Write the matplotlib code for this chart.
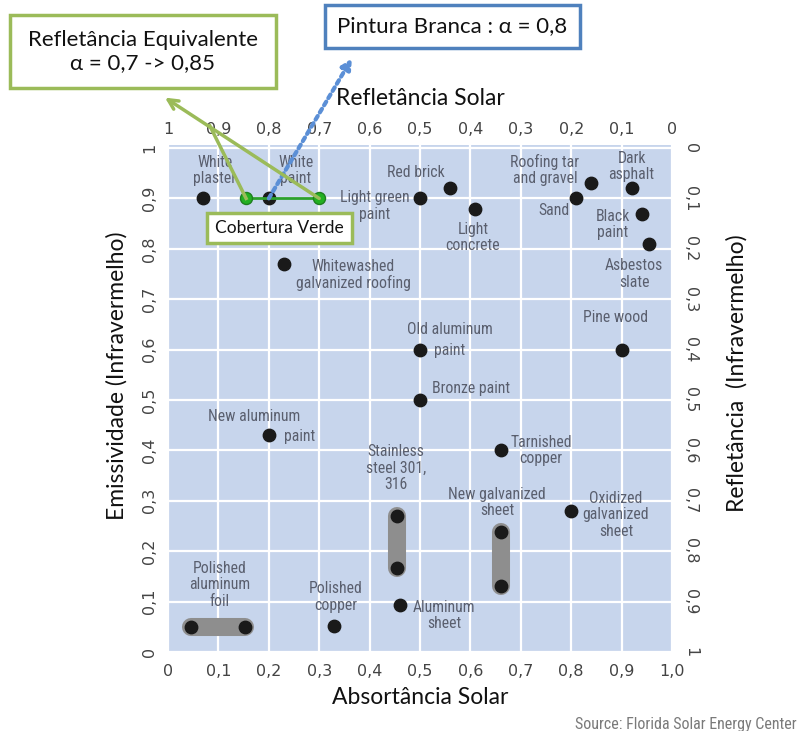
import matplotlib
matplotlib.use("Agg")
import matplotlib.pyplot as plt
from matplotlib.patches import FancyBboxPatch

# ---------------- data ----------------
materials = ["White plaster", "White paint", "Light green paint", "Red brick", "Light concrete",
             "Sand", "Roofing tar and gravel", "Dark asphalt", "Black paint", "Asbestos slate",
             "Whitewashed galvanized roofing", "Old aluminum paint", "Bronze paint", "Pine wood",
             "New aluminum paint", "Tarnished copper", "Oxidized galvanized sheet",
             "Aluminum sheet", "Polished copper"]
absorptance = [0.07, 0.20, 0.50, 0.56, 0.61, 0.81, 0.84, 0.92, 0.94, 0.955,
               0.23, 0.50, 0.50, 0.90, 0.20, 0.66, 0.80, 0.46, 0.33]
emissivity = [0.90, 0.90, 0.90, 0.92, 0.88, 0.90, 0.93, 0.92, 0.87, 0.81,
              0.77, 0.60, 0.50, 0.60, 0.43, 0.40, 0.28, 0.093, 0.052]

# range materials: (abs_min, abs_max, emis_min, emis_max)
range_names = ["Polished aluminum foil", "Stainless steel 301, 316", "New galvanized sheet"]
range_abs_lo = [0.045, 0.455, 0.66]
range_abs_hi = [0.153, 0.455, 0.66]
range_emi_lo = [0.05, 0.167, 0.131]
range_emi_hi = [0.05, 0.27, 0.238]

# green roof (cobertura verde) equivalent points
green_abs = [0.155, 0.30]
green_emi = [0.90, 0.90]

bottom_ticks = [0, 0.1, 0.2, 0.3, 0.4, 0.5, 0.6, 0.7, 0.8, 0.9, 1.0]
bottom_labels = ["0", "0,1", "0,2", "0,3", "0,4", "0,5", "0,6", "0,7", "0,8", "0,9", "1,0"]
top_labels = ["1", "0,9", "0,8", "0,7", "0,6", "0,5", "0,4", "0,3", "0,2", "0,1", "0"]
left_labels = ["0", "0,1", "0,2", "0,3", "0,4", "0,5", "0,6", "0,7", "0,8", "0,9", "1"]
right_labels = ["1", "0,9", "0,8", "0,7", "0,6", "0,5", "0,4", "0,3", "0,2", "0,1", "0"]

# --------------- figure ---------------
W, H = 800, 731
fig = plt.figure(figsize=(W / 100, H / 100), dpi=100)
ax = fig.add_axes([168 / W, 1 - 653 / H, 504 / W, 508 / H])
bg = "#c7d5ec"
ax.set_facecolor(bg)
ax.set_xlim(0, 1.0)
ax.set_ylim(-0.002, 1.006)
for s in ax.spines.values():
    s.set_visible(False)

ax.set_xticks(bottom_ticks)
ax.set_yticks(bottom_ticks)
ax.grid(True, color="white", linewidth=1.6, zorder=0)
ax.set_axisbelow(True)

tick_kw = dict(fontsize=11.5, color="#444444", family="DejaVu Sans")
ax.set_xticklabels(bottom_labels, **tick_kw)
ax.set_yticklabels(left_labels, rotation=90, va="center", **tick_kw)
ax.tick_params(axis="both", length=0, pad=8)

ax_top = ax.secondary_xaxis("top")
ax_top.set_xticks(bottom_ticks)
ax_top.set_xticklabels(top_labels, **tick_kw)
ax_top.tick_params(length=0, pad=6)
for s in ax_top.spines.values():
    s.set_visible(False)

ax_right = ax.secondary_yaxis("right")
ax_right.set_yticks(bottom_ticks)
ax_right.set_yticklabels(right_labels, rotation=-90, va="center", **tick_kw)
ax_right.tick_params(length=0, pad=8)
for s in ax_right.spines.values():
    s.set_visible(False)

title_kw = dict(fontsize=16.5, color="#111111", family="Lato")
ax.set_xlabel("Absortância Solar", labelpad=6, **title_kw)
ax.set_ylabel("Emissividade (Infravermelho)", labelpad=10, **title_kw)
ax.yaxis.label.set_y(0.545)
ax_top.set_xlabel("Refletância Solar", labelpad=12, **title_kw)
ax_right.set_ylabel("Refletância  (Infravermelho)", rotation=90, labelpad=20, **title_kw)
ax_right.yaxis.label.set_y(0.55)

# range bars
for x0, x1, y0, y1 in zip(range_abs_lo, range_abs_hi, range_emi_lo, range_emi_hi):
    ax.plot([x0, x1], [y0, y1], color="#8e8e8e", linewidth=13, solid_capstyle="round", zorder=2)
    ax.scatter([x0, x1], [y0, y1], s=80, color="#1a1a1a", zorder=3)

# point materials
ax.scatter(absorptance, emissivity, s=80, color="#1a1a1a", zorder=3)

# green roof
ax.plot(green_abs, green_emi, color="#2ca02c", linewidth=2, zorder=4)
ax.scatter(green_abs, green_emi, s=75, color="#22b022", edgecolors="#1e7e1e", linewidths=1, zorder=5)

# labels
narrow = ["Liberation Sans Narrow", "Roboto Condensed", "Roboto", "DejaVu Sans"]
lab = dict(fontsize=11.3, color="#5a5f6e", family=narrow, zorder=4)
texts = [
    ("White\nplaster", 0.093, 0.956, "center"),
    ("White\npaint", 0.254, 0.956, "center"),
    ("Red brick", 0.492, 0.952, "center"),
    ("Light green\npaint", 0.41, 0.885, "center"),
    ("Light\nconcrete", 0.605, 0.823, "center"),
    ("Roofing tar\nand gravel", 0.748, 0.956, "center"),
    ("Sand", 0.766, 0.877, "center"),
    ("Dark\nasphalt", 0.92, 0.964, "center"),
    ("Black\npaint", 0.883, 0.849, "center"),
    ("Asbestos\nslate", 0.925, 0.75, "center"),
    ("Whitewashed\ngalvanized roofing", 0.253, 0.748, "left"),
    ("Old aluminum", 0.56, 0.64, "center"),
    ("paint", 0.528, 0.598, "left"),
    ("Bronze paint", 0.524, 0.522, "left"),
    ("Pine wood", 0.889, 0.663, "center"),
    ("New aluminum", 0.17, 0.468, "center"),
    ("paint", 0.23, 0.428, "left"),
    ("Tarnished\ncopper", 0.74, 0.40, "center"),
    ("Stainless\nsteel 301,\n316", 0.452, 0.365, "center"),
    ("New galvanized\nsheet", 0.653, 0.296, "center"),
    ("Oxidized\ngalvanized\nsheet", 0.889, 0.272, "center"),
    ("Polished\naluminum\nfoil", 0.103, 0.133, "center"),
    ("Polished\ncopper", 0.333, 0.109, "center"),
    ("Aluminum\nsheet", 0.548, 0.073, "center"),
]
for t, x, y, ha in texts:
    ax.text(x, y, t, ha=ha, va="center", multialignment="center", linespacing=1.1, **lab)

# --- overlay annotations (in data coords, outside axes) ---
green_edge = "#9bbb59"
# blue dotted arrow from white paint
ax.annotate("", xy=(0.365, 1.178), xytext=(absorptance[1], emissivity[1]),
            arrowprops=dict(arrowstyle="-|>,head_width=0.3,head_length=0.6", color="#5b8fd6",
                            linewidth=3, linestyle=(0, (1, 1)), shrinkA=0, shrinkB=0),
            annotation_clip=False, zorder=6)
# green arrows
ax.annotate("", xy=(-0.006, 1.10), xytext=(green_abs[1], green_emi[1]),
            arrowprops=dict(arrowstyle="->,head_width=0.35,head_length=0.7", color=green_edge,
                            linewidth=2.5, shrinkA=0, shrinkB=0),
            annotation_clip=False, zorder=6)
ax.plot([green_abs[0], 0.083], [green_emi[0], 1.044], color=green_edge, linewidth=2.5,
        clip_on=False, zorder=6)

def fig_box(x0, y0, x1, y1, edge, text, fs):
    # pixel coordinates (top-left origin) -> figure fraction
    fx0, fx1 = x0 / W, x1 / W
    fy0, fy1 = 1 - y1 / H, 1 - y0 / H
    p = FancyBboxPatch((fx0, fy0), fx1 - fx0, fy1 - fy0, boxstyle="square,pad=0",
                       transform=fig.transFigure, facecolor="white", edgecolor=edge,
                       linewidth=2.5, zorder=10)
    fig.add_artist(p)
    fig.text((fx0 + fx1) / 2, (fy0 + fy1) / 2, text, ha="center", va="center",
             fontsize=fs, family="Lato", color="#111111", linespacing=1.25, zorder=11)

fig_box(10, 15, 276, 88, green_edge, "Refletância Equivalente\nα = 0,7 -> 0,85", 16)
fig_box(325, 5, 580, 48, "#4f81bd", "Pintura Branca : α = 0,8", 16)
fig_box(207, 213, 352, 243, green_edge, "Cobertura Verde", 12.5)

fig.text(797 / W, 1 - 724 / H, "Source: Florida Solar Energy Center", ha="right", va="center",
         fontsize=11.5, color="#7a7a7a", family=narrow)

fig.savefig("out.png", dpi=100, facecolor="white")
